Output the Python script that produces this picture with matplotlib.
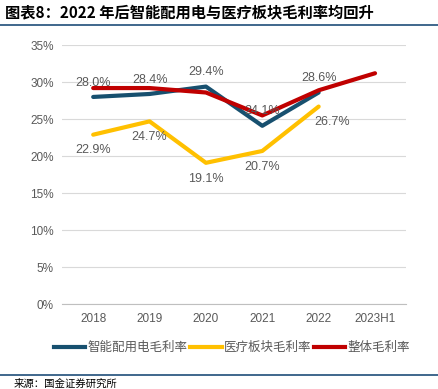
import matplotlib.pyplot as plt
import matplotlib.lines as mlines

plt.rcParams['font.family'] = ['Noto Sans CJK SC', 'DejaVu Sans']
num_font = ['Liberation Sans', 'Noto Sans CJK SC']

# 数据
years = ["2018", "2019", "2020", "2021", "2022", "2023H1"]
smart = [28.0, 28.4, 29.4, 24.1, 28.6]
medical = [22.9, 24.7, 19.1, 20.7, 26.7]
total = [29.2, 29.2, 28.6, 25.5, 28.9, 31.2]
yticks = [0, 5, 10, 15, 20, 25, 30, 35]

blue = "#17506F"
yellow = "#FFC000"
red = "#C00000"
grey = "#595959"

fig = plt.figure(figsize=(4.38, 3.89), dpi=100)
ax = fig.add_axes([0.142, 0.218, 0.785, 0.666])

x = list(range(len(years)))
ax.plot(x[:5], smart, color=blue, lw=3, solid_capstyle="round", zorder=3)
ax.plot(x[:5], medical, color=yellow, lw=3, solid_capstyle="round", zorder=3)
ax.plot(x, total, color=red, lw=3, solid_capstyle="round", zorder=4)

# 数据标签
for i, v in enumerate(smart):
    ax.annotate(f"{v:.1f}%", (i, v), xytext=(0, 6), textcoords="offset points",
                ha="center", va="bottom", fontsize=9, color=grey, zorder=5,
                family=num_font)
for i, v in enumerate(medical):
    dx = 10 if i == 4 else 0
    ax.annotate(f"{v:.1f}%", (i, v), xytext=(dx, -7), textcoords="offset points",
                ha="center", va="top", fontsize=9, color=grey, zorder=5,
                family=num_font)

ax.set_ylim(0, 35)
ax.set_xlim(-0.55, 5.55)
ax.set_yticks(yticks)
ax.set_yticklabels([f"{t}%" for t in yticks], family=num_font)
ax.set_xticks(x)
ax.set_xticklabels(years, family=num_font)
ax.tick_params(axis="both", length=0, labelsize=8.5, colors=grey, pad=6)
ax.grid(axis="y", color="#D9D9D9", lw=0.8)
ax.set_axisbelow(True)
for s in ["top", "right", "left"]:
    ax.spines[s].set_visible(False)
ax.spines["bottom"].set_color("#BFBFBF")

# 图例
handles = [mlines.Line2D([], [], color=blue, lw=3),
           mlines.Line2D([], [], color=yellow, lw=3),
           mlines.Line2D([], [], color=red, lw=3)]
fig.legend(handles, ["智能配用电毛利率", "医疗板块毛利率", "整体毛利率"],
           loc="center", bbox_to_anchor=(0.53, 0.107), ncol=3, frameon=False,
           fontsize=9, handlelength=2.5, handletextpad=0.2, columnspacing=0.2,
           labelcolor=grey)

# 标题与来源
fig.text(0.012, 0.968, "图表8：2022 年后智能配用电与医疗板块毛利率均回升",
         fontsize=11, fontweight="bold", style="italic", va="center", ha="left")
fig.add_artist(mlines.Line2D([0.0, 1.0], [0.935, 0.935], color="#1F4E79", lw=1.2))
fig.add_artist(mlines.Line2D([0.0, 1.0], [0.036, 0.036], color="#1F4E79", lw=1.2))
fig.text(0.03, 0.014, "来源：国金证券研究所", fontsize=7.5, va="center", ha="left")

plt.savefig("out.png", dpi=100)
